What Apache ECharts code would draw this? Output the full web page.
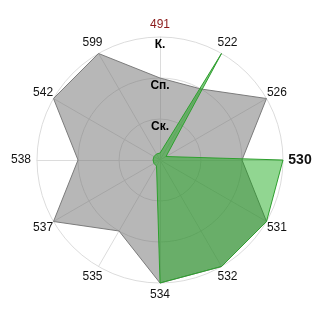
<!DOCTYPE html>
<html>
<head>
<meta charset="utf-8">
<script src="https://cdn.jsdelivr.net/npm/echarts@6/dist/echarts.min.js"></script>
<style>html,body{margin:0;padding:0;background:#fff;}#c{width:320px;height:320px;}</style>
</head>
<body>
<div id="c"></div>
<script>
// Indicators in ECharts (counter-clockwise from top) order
const indicators = ['491','599','542','538','537','535','534','532','531','530','526','522'];
const grayValues = [2, 3, 3, 2, 3, 2, 3, 3, 3, 2, 3, 2];
const greenValues = [0.17, 0.17, 0.17, 0.17, 0.17, 0.17, 3, 3, 3, 3, 0.17, 3];
const levelLabels = ['', 'Ск.', 'Сп.', 'К.'];
const maxValue = 3;

const chart = echarts.init(document.getElementById('c'), null, {renderer: 'canvas'});
chart.setOption({
  animation: false,
  radar: {
    center: [160, 160],
    radius: 123,
    startAngle: 90,
    shape: 'circle',
    splitNumber: 3,
    nameGap: 12,
    indicator: indicators.map(n => ({name: n, max: maxValue, min: 0})),
    axisName: {
      color: '#111',
      fontSize: 12,
      fontFamily: 'Liberation Sans, Arial, sans-serif',
      align: 'center',
      verticalAlign: 'middle',
      formatter: function (name) {
        if (name === '491') return '{r|' + name + '}';
        if (name === '530') return '{b|' + name + '}';
        if (name === '538') return '{l|' + name + '}';
        return name;
      },
      rich: {
        r: {color: '#8b1a1a', fontSize: 12, fontFamily: 'Liberation Sans, Arial, sans-serif'},
        b: {color: '#111', fontSize: 14, fontWeight: 'bold', fontFamily: 'Liberation Sans, Arial, sans-serif', padding: [0, 0, 0, 10]},
        l: {color: '#111', fontSize: 12, fontFamily: 'Liberation Sans, Arial, sans-serif', padding: [0, 8, 0, 0]}
      }
    },
    splitLine: {lineStyle: {color: '#dcdcdc', width: 1}},
    splitArea: {show: false},
    axisLine: {lineStyle: {color: '#dcdcdc', width: 1}},
    axisLabel: {show: false},
    axisTick: {show: false}
  },
  polar: {center: [160, 160], radius: 123},
  angleAxis: {show: false, type: 'value', min: 0, max: 360, startAngle: 90},
  radiusAxis: {
    type: 'value', min: 0, max: maxValue, interval: 1, z: 20,
    axisLine: {show: false}, axisTick: {show: false}, splitLine: {show: false},
    axisLabel: {
      show: true, margin: 0, align: 'center', verticalAlign: 'top', lineHeight: 16,
      fontSize: 12, fontWeight: 'bold', color: '#000',
      fontFamily: 'Liberation Sans, Arial, sans-serif',
      formatter: v => levelLabels[v] || ''
    }
  },
  series: [{
    type: 'radar',
    z: 2,
    symbol: 'none',
    data: [
      {value: grayValues, lineStyle: {color: '#808080', width: 1}, areaStyle: {color: 'rgba(112,112,112,0.5)', opacity: 1}},
      {value: greenValues, lineStyle: {color: '#3a9e3a', width: 1}, areaStyle: {color: 'rgba(10,165,10,0.45)', opacity: 1}}
    ]
  }]
});
</script>
</body>
</html>
